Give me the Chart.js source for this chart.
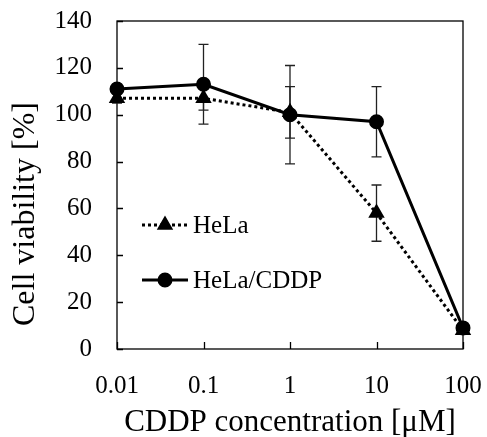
<!DOCTYPE html>
<html>
<head>
<meta charset="utf-8">
<script src="https://cdn.jsdelivr.net/npm/chart.js@4.4.0/dist/chart.umd.min.js"></script>
<style>
  html, body { margin: 0; padding: 0; background: #fff; }
  #wrap { position: relative; width: 487px; height: 437px; }
</style>
</head>
<body>
<div id="wrap"><canvas id="chart"></canvas></div>
<script>
// CDDP concentrations (uM) and viability (%)
const concentrations = [0.01, 0.1, 1, 10, 100];
const xTickValues = [0.01, 0.1, 1, 10, 100];
const helaMean = [107, 107, 101, 58, 8];
const helaErr = [2, 5, 11, 12, 1];
const cddpMean = [111, 113, 100, 97, 9];
const cddpErr = [2, 17, 21, 15, 1];
const yTickStep = 20;
const yTitle = "Cell viability [%]";

const FONT = "'Liberation Serif', 'Times New Roman', serif";

// error bars drawn under the markers
const errorBarsPlugin = {
  id: "errorBars",
  beforeDatasetsDraw(chart) {
    const { ctx, scales: { x, y } } = chart;
    ctx.save();
    ctx.strokeStyle = "#222";
    ctx.lineWidth = 1.3;
    chart.data.datasets.forEach(ds => {
      ds.data.forEach((pt, i) => {
        const err = ds.errors[i];
        const px = x.getPixelForValue(pt.x);
        const top = y.getPixelForValue(pt.y + err);
        const bot = y.getPixelForValue(pt.y - err);
        ctx.beginPath();
        ctx.moveTo(px, top); ctx.lineTo(px, bot);
        ctx.moveTo(px - 5, top); ctx.lineTo(px + 5, top);
        ctx.moveTo(px - 5, bot); ctx.lineTo(px + 5, bot);
        ctx.stroke();
      });
    });
    ctx.restore();
  }
};

// box frame with inward ticks, plus the y title
const framePlugin = {
  id: "frame",
  beforeDatasetsDraw(chart) {
    const { ctx, chartArea: a, scales: { x, y } } = chart;
    ctx.save();
    ctx.strokeStyle = "#000";
    ctx.lineWidth = 1.3;
    ctx.strokeRect(a.left, a.top, a.right - a.left, a.bottom - a.top);
    ctx.beginPath();
    y.ticks.forEach(t => {
      const py = Math.round(y.getPixelForValue(t.value)) + 0.5;
      ctx.moveTo(a.left, py); ctx.lineTo(a.left + 6, py);
    });
    x.ticks.forEach(t => {
      const px = Math.round(x.getPixelForValue(t.value)) + 0.5;
      ctx.moveTo(px, a.bottom); ctx.lineTo(px, a.bottom - 7);
    });
    ctx.stroke();

    // y title sits a bit below the middle in the original
    ctx.translate(26, a.bottom - 135);
    ctx.rotate(-Math.PI / 2);
    ctx.fillStyle = "#000";
    ctx.font = "32px " + FONT;
    ctx.textAlign = "center";
    ctx.textBaseline = "middle";
    ctx.fillText(yTitle, 0, 0);
    ctx.restore();
  }
};

// legend inside the plot
const legendPlugin = {
  id: "innerLegend",
  afterDraw(chart) {
    const { ctx, chartArea: a } = chart;
    const rows = [
      { ds: chart.data.datasets[0], y: a.top + 204 },
      { ds: chart.data.datasets[1], y: a.top + 259 }
    ];
    ctx.save();
    rows.forEach(r => {
      const x0 = a.left + 25, x1 = a.left + 71;
      ctx.strokeStyle = "#000";
      ctx.lineWidth = 3;
      ctx.setLineDash(r.ds.borderDash || []);
      ctx.beginPath();
      ctx.moveTo(x0, r.y); ctx.lineTo(x1, r.y);
      ctx.stroke();
      ctx.setLineDash([]);
      ctx.fillStyle = "#000";
      Chart.helpers.drawPoint(ctx, {
        pointStyle: r.ds.pointStyle,
        radius: r.ds.pointRadius,
        borderWidth: 1
      }, (x0 + x1) / 2, r.y);
      ctx.fill();
      ctx.font = "25px " + FONT;
      ctx.textBaseline = "middle";
      ctx.textAlign = "left";
      ctx.fillText(r.ds.label, x1 + 5, r.y + 1);
    });
    ctx.restore();
  }
};

new Chart(document.getElementById("chart"), {
  type: "line",
  data: {
    datasets: [
      {
        label: "HeLa",
        data: concentrations.map((c, i) => ({ x: c, y: helaMean[i] })),
        errors: helaErr,
        borderColor: "#000",
        backgroundColor: "#000",
        borderWidth: 3,
        borderDash: [3, 3],
        pointStyle: "triangle",
        pointRadius: 6.5,
        pointBorderColor: "#000",
        pointBackgroundColor: "#000",
        tension: 0,
        clip: false
      },
      {
        label: "HeLa/CDDP",
        data: concentrations.map((c, i) => ({ x: c, y: cddpMean[i] })),
        errors: cddpErr,
        borderColor: "#000",
        backgroundColor: "#000",
        borderWidth: 3,
        pointStyle: "circle",
        pointRadius: 6,
        pointBorderColor: "#000",
        pointBackgroundColor: "#000",
        tension: 0,
        clip: false
      }
    ]
  },
  options: {
    responsive: true,
    maintainAspectRatio: false,
    animation: false,
    layout: { padding: { top: 21, right: 24, left: 0, bottom: 0 } },
    plugins: {
      legend: { display: false },
      tooltip: { enabled: false }
    },
    scales: {
      x: {
        type: "logarithmic",
        min: 0.01,
        max: 100,
        afterBuildTicks(scale) {
          scale.ticks = xTickValues.map(v => ({ value: v }));
        },
        afterFit(scale) {
          scale.height = 88;
          scale.paddingLeft = 0;
          scale.paddingRight = 0;
        },
        grid: { display: false },
        border: { display: false },
        ticks: {
          color: "#000",
          font: { family: FONT, size: 25 },
          padding: 14,
          maxRotation: 0,
          autoSkip: false,
          callback: v => String(v)
        },
        title: {
          display: true,
          text: "CDDP concentration [\u03bcM]",
          color: "#000",
          font: { family: FONT, size: 31, lineHeight: 1 },
          padding: { bottom: -1 }
        }
      },
      y: {
        min: 0,
        max: 140,
        afterFit(scale) {
          scale.width = 117;
          scale.paddingTop = 0;
          scale.paddingBottom = 0;
        },
        grid: { display: false },
        border: { display: false },
        ticks: {
          stepSize: yTickStep,
          color: "#000",
          font: { family: FONT, size: 25 },
          padding: 17
        }
      }
    }
  },
  plugins: [framePlugin, errorBarsPlugin, legendPlugin]
});
</script>
</body>
</html>
